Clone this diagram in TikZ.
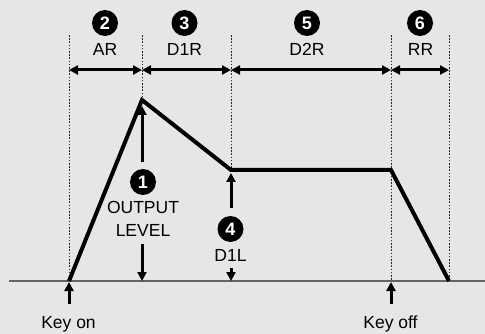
\documentclass[tikz,border=0pt]{standalone}
\usepackage{fontspec}
\setmainfont{Liberation Sans}
\usetikzlibrary{arrows.meta}
\definecolor{bg}{RGB}{230,230,230}
\definecolor{basegray}{RGB}{100,100,100}
\begin{document}
\begin{tikzpicture}[x=1pt,y=-1pt,
  lbl/.style={font=\fontsize{17.5}{20}\selectfont, inner sep=0pt, anchor=base},
  num/.style={circle, fill=black, text=white, minimum size=26pt, inner sep=0pt, font=\fontsize{18}{18}\selectfont\bfseries},
  env/.style={line width=4pt, line join=miter},
  arr/.style={line width=3pt, -{Triangle[length=9pt,width=9pt]}},
  darr/.style={line width=3pt, {Triangle[length=9pt,width=9pt]}-{Triangle[length=9pt,width=9pt]}},
  guide/.style={line width=0.9pt, dash pattern=on 1.6pt off 1.6pt, draw=black!85},
  base/.style={line width=1.6pt, draw=basegray}]
\fill[bg] (0,0) rectangle (485,334);
\useasboundingbox (0,0) rectangle (485,334);
% envelope points
\coordinate (k0) at (69,281);
\coordinate (pk) at (142,100);
\coordinate (s1) at (231,170);
\coordinate (s2) at (391,170);
\coordinate (r0) at (449,281);
% baseline ends
\coordinate (bl) at (9,281);
\coordinate (br) at (485,281);
% guide tops
\coordinate (g1) at (69,35);
\coordinate (g2) at (142,35);
\coordinate (g3) at (231,35);
\coordinate (g4) at (391,35);
\coordinate (g5) at (449,35);
\coordinate (g4b) at (391,281);
% arrow row
\coordinate (h1) at (69,70);
\coordinate (h2) at (142,70);
\coordinate (h3) at (231,70);
\coordinate (h4) at (391,70);
\coordinate (h5) at (449,70);
% guides
\draw[guide] (g1) -- (k0);
\draw[guide] (g2) -- (pk);
\draw[guide] (g3) -- (s1);
\draw[guide] (g4) -- (g4b);
\draw[guide] (g5) -- (r0);
% baseline
\draw[base] (bl) -- (br);
% envelope
\draw[env] (k0) -- (pk) -- (s1) -- (s2) -- (r0);
% horizontal arrows
\draw[darr] (h1) -- (h2);
\draw[darr] (h2) -- (h3);
\draw[darr] (h3) -- (h4);
\draw[darr] (h4) -- (h5);
% circled numbers
\node[num] (c2) at (105,23) {2};
\node[num] (c3) at (184.5,23) {3};
\node[num] (c5) at (307,23) {5};
\node[num] (c6) at (420,23) {6};
\node[num] (c1) at (143,182) {1};
\node[num] (c4) at (230.5,229) {4};
% labels
\node[lbl] (tAR) at (105,56) {AR};
\node[lbl] (tD1R) at (184.5,56) {D1R};
\node[lbl] (tD2R) at (307,56) {D2R};
\node[lbl] (tRR) at (420.5,56) {RR};
\node[lbl] (tOut) at (143,214) {OUTPUT};
\node[lbl] (tLev) at (143,236.5) {LEVEL};
\node[lbl] (tD1L) at (230.5,261) {D1L};
\node[lbl] (tKon) at (68.5,328) {Key on};
\node[lbl] (tKoff) at (390.5,328) {Key off};
% vertical arrows
\coordinate (olA) at (142,162);
\coordinate (olT) at (142,106);
\coordinate (olB) at (142,244);
\coordinate (olE) at (142,281);
\coordinate (dlA) at (231,208);
\coordinate (dlT) at (231,173);
\coordinate (dlB) at (231,268);
\coordinate (dlE) at (231,281);
\coordinate (konA) at (69,304);
\coordinate (konT) at (69,282);
\coordinate (koffA) at (391,304);
\coordinate (koffT) at (391,282);
\draw[arr] (olA) -- (olT);
\draw[arr] (olB) -- (olE);
\draw[arr] (dlA) -- (dlT);
\draw[arr] (dlB) -- (dlE);
\draw[arr] (konA) -- (konT);
\draw[arr] (koffA) -- (koffT);
\end{tikzpicture}
\end{document}
